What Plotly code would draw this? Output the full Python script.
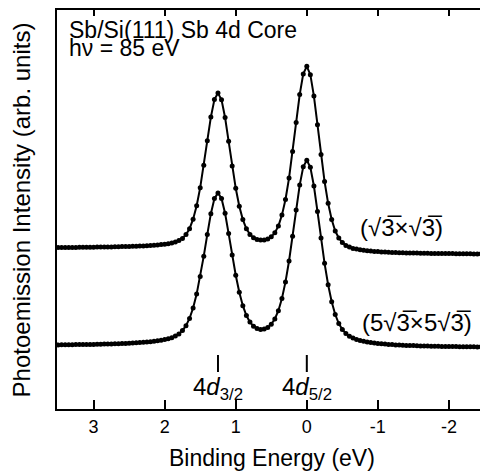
import plotly.graph_objects as go

# Binding energy grid (eV), high to low
binding_energy = [
    3.50, 3.45, 3.40, 3.35, 3.30, 3.25, 3.20, 3.15, 3.10, 3.05,
    3.00, 2.95, 2.90, 2.85, 2.80, 2.75, 2.70, 2.65, 2.60, 2.55,
    2.50, 2.45, 2.40, 2.35, 2.30, 2.25, 2.20, 2.15, 2.10, 2.05,
    2.00, 1.95, 1.90, 1.85, 1.80, 1.75, 1.70, 1.65, 1.60, 1.55,
    1.50, 1.45, 1.40, 1.35, 1.30, 1.25, 1.20, 1.15, 1.10, 1.05,
    1.00, 0.95, 0.90, 0.85, 0.80, 0.75, 0.70, 0.65, 0.60, 0.55,
    0.50, 0.45, 0.40, 0.35, 0.30, 0.25, 0.20, 0.15, 0.10, 0.05,
    0.00, -0.05, -0.10, -0.15, -0.20, -0.25, -0.30, -0.35, -0.40, -0.45,
    -0.50, -0.55, -0.60, -0.65, -0.70, -0.75, -0.80, -0.85, -0.90, -0.95,
    -1.00, -1.05, -1.10, -1.15, -1.20, -1.25, -1.30, -1.35, -1.40, -1.45,
    -1.50, -1.55, -1.60, -1.65, -1.70, -1.75, -1.80, -1.85, -1.90, -1.95,
    -2.00, -2.05, -2.10, -2.15, -2.20, -2.25, -2.30, -2.35, -2.40, -2.45,
    -2.50,
]

# (sqrt3 x sqrt3) spectrum, arb. units
intensity_r3 = [
    161.5, 161.5, 161.5, 161.6, 161.6, 161.6, 161.7, 161.7, 161.7, 161.8,
    161.8, 161.9, 161.9, 162.0, 162.1, 162.1, 162.2, 162.3, 162.4, 162.5,
    162.6, 162.7, 162.8, 163.0, 163.1, 163.3, 163.5, 163.7, 164.0, 164.4,
    164.8, 165.3, 166.0, 166.9, 168.4, 170.6, 174.4, 180.3, 189.8, 203.2,
    221.3, 243.8, 268.3, 291.9, 309.5, 315.9, 309.2, 291.5, 267.7, 243.0,
    220.7, 202.7, 189.4, 180.2, 174.6, 171.3, 169.6, 168.9, 169.0, 170.0,
    172.2, 176.2, 182.9, 193.9, 209.5, 230.9, 257.4, 286.5, 314.4, 335.1,
    342.7, 334.3, 312.9, 284.3, 254.6, 227.5, 205.7, 189.5, 178.0, 171.0,
    166.4, 163.6, 161.9, 160.6, 159.9, 159.3, 158.7, 158.3, 157.9, 157.6,
    157.4, 157.1, 156.9, 156.7, 156.6, 156.5, 156.3, 156.2, 156.1, 156.0,
    156.0, 155.9, 155.8, 155.7, 155.7, 155.6, 155.6, 155.5, 155.5, 155.4,
    155.4, 155.4, 155.3, 155.3, 155.3, 155.2, 155.2, 155.1, 155.1, 155.1,
    155.1,
]

# (5sqrt3 x 5sqrt3) spectrum, arb. units
intensity_5r3 = [
    64.1, 64.2, 64.2, 64.3, 64.3, 64.4, 64.4, 64.5, 64.5, 64.6,
    64.6, 64.7, 64.8, 64.9, 65.0, 65.1, 65.2, 65.3, 65.5, 65.6,
    65.8, 66.0, 66.2, 66.4, 66.7, 67.0, 67.3, 67.7, 68.2, 68.8,
    69.4, 70.2, 71.3, 72.9, 75.1, 78.4, 83.3, 90.6, 101.0, 114.9,
    132.4, 152.8, 174.6, 195.3, 210.4, 216.1, 210.6, 195.7, 175.4, 153.9,
    133.8, 116.8, 103.3, 93.5, 86.9, 82.8, 80.4, 79.6, 79.9, 81.4,
    84.8, 90.0, 98.3, 110.5, 127.1, 148.0, 172.8, 199.0, 223.9, 242.2,
    248.8, 241.7, 223.0, 197.6, 170.9, 145.7, 124.3, 107.2, 94.5, 85.5,
    79.5, 75.4, 72.7, 70.9, 69.5, 68.6, 67.7, 67.0, 66.4, 66.0,
    65.6, 65.2, 64.9, 64.6, 64.4, 64.1, 63.9, 63.8, 63.6, 63.4,
    63.4, 63.2, 63.1, 63.0, 62.9, 62.8, 62.8, 62.7, 62.6, 62.5,
    62.5, 62.4, 62.4, 62.3, 62.3, 62.3, 62.2, 62.2, 62.1, 62.1,
    62.1,
]

tick_values = [3, 2, 1, 0, -1, -2]
tick_labels = ["3", "2", "1", "0", "-1", "-2"]
peak_positions = [1.25, 0.0]
peak_labels = ["4<i>d</i><sub>3/2</sub>", "4<i>d</i><sub>5/2</sub>"]

FONT = "Liberation Sans, Arial, sans-serif"

fig = go.Figure()
for ys in (intensity_r3, intensity_5r3):
    fig.add_trace(go.Scatter(
        x=binding_energy, y=ys, mode="lines+markers",
        line=dict(color="black", width=2),
        marker=dict(color="black", size=5),
        showlegend=False, hoverinfo="skip",
    ))
# invisible trace to anchor the top axis
fig.add_trace(go.Scatter(x=[tick_values[0]], y=[0], xaxis="x2", mode="markers",
                         marker=dict(opacity=0), showlegend=False, hoverinfo="skip"))

fig.update_layout(
    width=480, height=473,
    margin=dict(l=57, r=0, t=10, b=64),
    paper_bgcolor="white", plot_bgcolor="white",
    font=dict(family=FONT, color="black"),
    xaxis=dict(
        range=[3.515, -2.437], tickvals=tick_values, ticktext=tick_labels,
        ticks="inside", ticklen=9, tickwidth=2, tickcolor="black",
        showline=True, linewidth=2, linecolor="black",
        showgrid=False, zeroline=False, tickfont=dict(size=18),
    ),
    xaxis2=dict(
        overlaying="x", side="top", matches="x", range=[3.515, -2.437],
        tickvals=tick_values, ticks="inside", ticklen=6, tickwidth=2, tickcolor="black",
        showticklabels=False, showline=True, linewidth=2, linecolor="black",
        showgrid=False, zeroline=False,
    ),
    yaxis=dict(
        range=[0, 399], showticklabels=False, ticks="",
        showline=True, linewidth=2, linecolor="black",
        showgrid=False, zeroline=False,
    ),
)

ann = [
    dict(text="Photoemission Intensity (arb. units)", xref="paper", yref="paper",
         x=-0.083, y=0.5, textangle=-90, showarrow=False, font=dict(size=24),
         xanchor="center", yanchor="middle"),
    dict(text="Binding Energy (eV)", xref="paper", yref="paper",
         x=0.508, y=-0.123, showarrow=False, font=dict(size=23),
         xanchor="center", yanchor="middle"),
    dict(text="Sb/Si(111) Sb 4d Core", xref="paper", yref="paper",
         x=0.0236, y=0.951, showarrow=False, font=dict(size=23),
         xanchor="left", yanchor="middle"),
    dict(text="hν = 85 eV", xref="paper", yref="paper",
         x=0.0236, y=0.906, showarrow=False, font=dict(size=23),
         xanchor="left", yanchor="middle"),
    dict(text="(√3\u0305×√3\u0305)", xref="paper", yref="paper",
         x=0.712, y=0.454, showarrow=False, font=dict(size=24),
         xanchor="left", yanchor="middle"),
    dict(text="(5√3\u0305×5√3\u0305)", xref="paper", yref="paper",
         x=0.716, y=0.218, showarrow=False, font=dict(size=24),
         xanchor="left", yanchor="middle"),
]
for xp, lab in zip(peak_positions, peak_labels):
    ann.append(dict(text=lab, xref="x", yref="y", x=xp, y=21, showarrow=False,
                    font=dict(size=24), xanchor="center", yanchor="middle"))
    fig.add_shape(type="line", xref="x", yref="y", x0=xp, x1=xp, y0=37, y1=54,
                  line=dict(color="black", width=2))
fig.update_layout(annotations=ann)

fig.write_html("out.html", config={"displayModeBar": False},
               post_script="document.body.style.margin='0';")
